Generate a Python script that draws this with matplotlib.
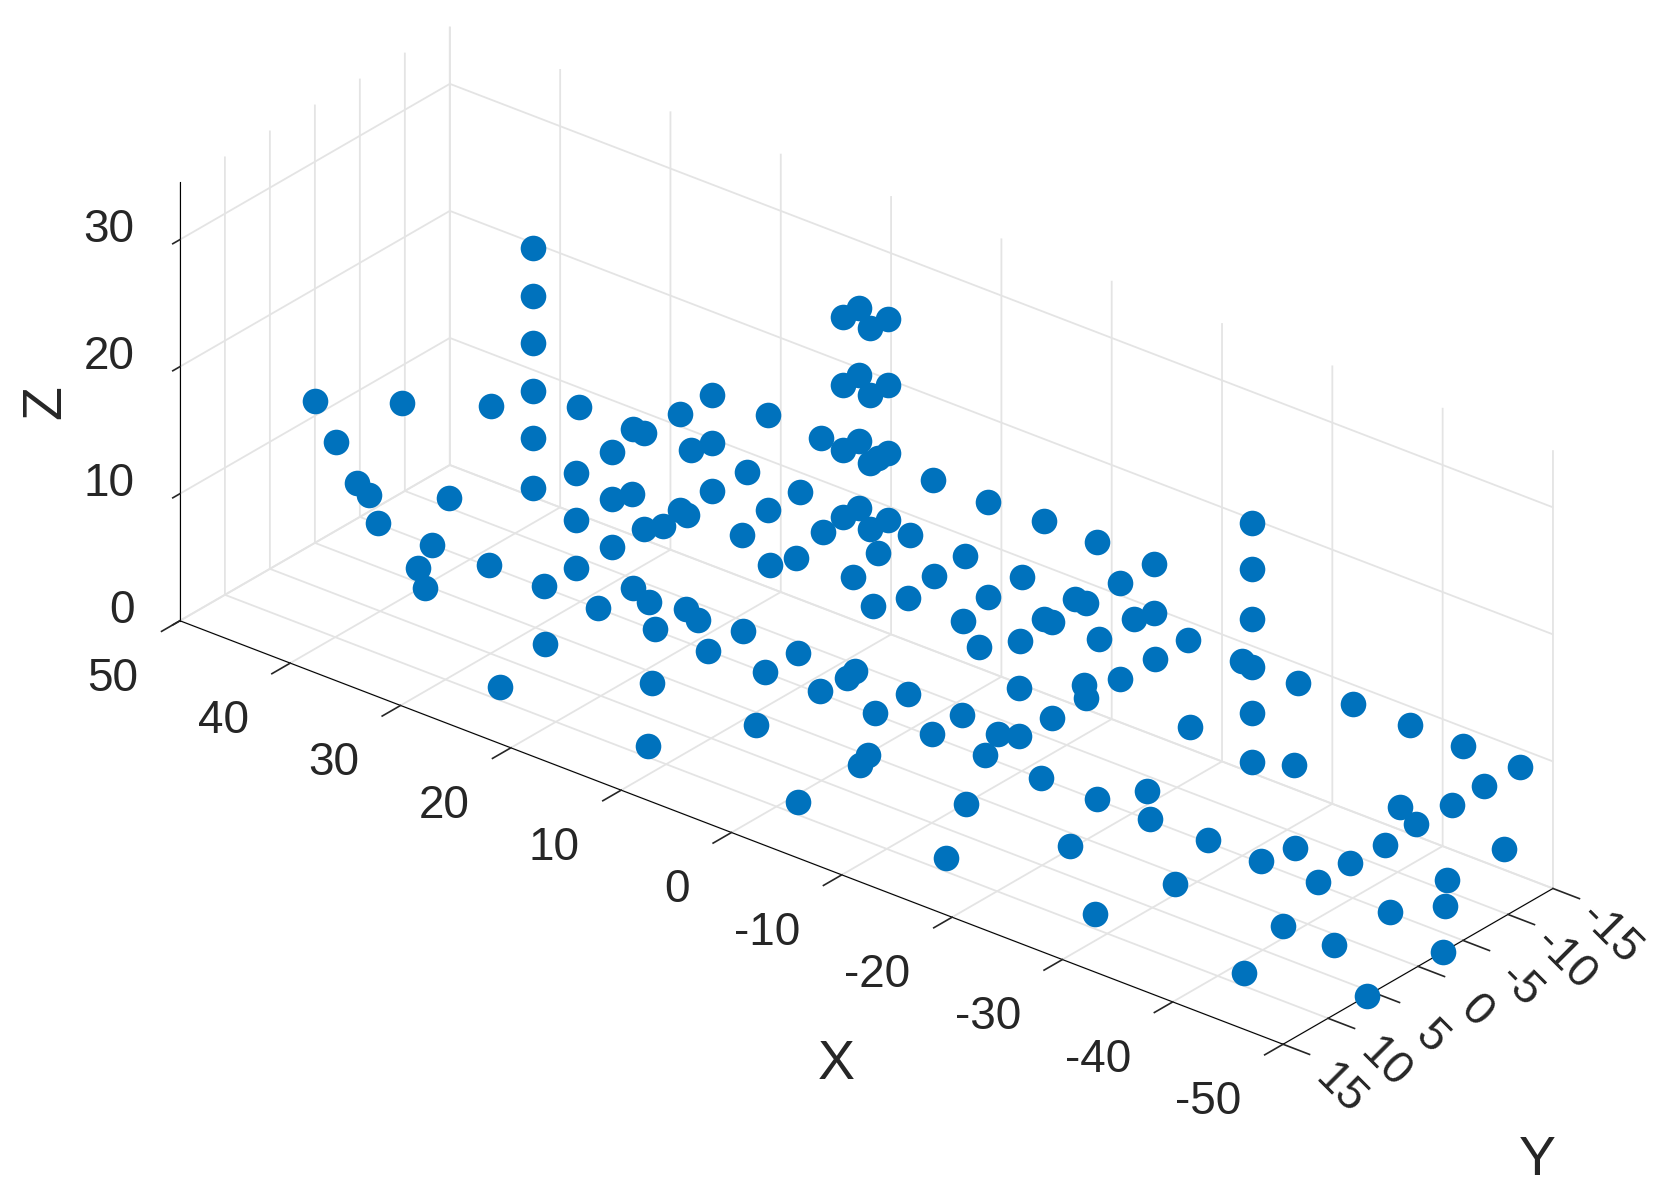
import matplotlib
matplotlib.use('Agg')
import matplotlib.pyplot as plt
from matplotlib.transforms import Affine2D

plt.rcParams['font.family'] = ['Liberation Sans', 'DejaVu Sans']
plt.rcParams['axes.unicode_minus'] = False

# Points. Only two of three coordinates are recoverable from a
# projected view, so depth is an estimate.
floor_x = [48.4, 46.9, 43.4, 42.0, 39.8, -2.0, -6.6, -6.6, -5.2, -1.5, -6.5, -11.7, -1.6, 3.5, 3.5, 8.3, 8.5, 8.5,
           13.3, 13.3, 18.4, 18.4, 21.9, 23.5, 23.3, 26.2, 28.4, 28.4, 33.5, 38.5, 27.9, 26.3, 18.4, 12.7, 8.8, -0.1,
           -0.6, -0.7, -10.1, -14.1, -19.7, -16.7, -18.7, -21.5, -26.6, -29.0, -27.5, -31.5, -32.2, -36.6, -36.6,
           -36.7, -43.4, -45.8, -50.0, -43.4, -43.4, -38.8, -41.2, -50.0]
floor_y = [-5.1, -11.1, -4.9, -1.6, 0.3, -14.5, -12.5, -8.9, -8.2, -8.8, -5.2, -5.1, -5.3, -8.9, -5.2, -8.0, -9.1, -5.3,
           -5.0, -8.7, -8.8, -5.0, -8.1, -8.8, -5.1, -8.0, -8.9, -5.0, -5.2, -5.2, 1.5, 8.5, 1.3, 8.7, 1.5, 0.0,
           1.5, 8.5, 1.3, 8.4, 1.5, -5.1, -8.3, -5.2, -5.3, 1.3, 8.3, -5.2, -8.2, -5.3, -8.9,
           -12.6, -11.3, -8.2, -2.8, -5.0, 1.3, 1.3, 8.5, 5.7]

low_x = [47.4, 45.6, 31.4, 27.4, 26.7, 27.3, 26.4, 21.5, 17.1, 16.4, 11.5, 7.6, 6.5, 1.4, -2.0, -3.6, -12.6, -11.3,
         -12.6, -40.0, -42.5, -42.6, -21.0, -30.3, -49.6]
low_y = [-1.5, -0.6, -12.4, -8.9, -10.1, -12.7, -12.4, -12.5, -10.3, -12.3, -12.6, -10.1, -12.6, -12.4, -10.1, -12.6,
         -12.7, -10.3, -8.9, -10.3, -9.0, -12.8, -10.2, -10.4, -10.1]

mid_x = [46.4, 46.5, 41.4, 36.4, 31.4, 30.4, 26.3, 21.2, 16.4, 16.4, 11.4, 6.4, 6.4, 1.2, 1.4, -3.8, -3.7, -8.8, -9.6,
         -8.6, -9.6, -13.7, -14.3, -13.7, -18.7, -18.7, -48.6, -48.7, -43.6, -38.8, -33.7, -28.7, -23.6]
mid_y = [2.1, -5.4, -9.0, -12.7, -12.6, -12.6, -12.7, -12.7, -9.2, -12.7, -9.1, -9.1, -12.7, -9.0, -12.7, -8.9, -12.7,
         -8.9, -8.9, -12.6, -12.6, -12.9, -14.4, -9.0, -12.8, -9.2, -9.1, -12.9, -12.8, -12.8, -12.8, -12.8, -12.8]

high_x = [45.4, 24.3, 19.4, 14.4, 9.4, 4.3, -0.7, -5.6, -10.5, -15.6, -15.6]
high_y = [5.6, -9.1, -12.8, -12.6, -12.8, -12.7, -12.6, -12.9, -12.8, -9.0, -12.8]

# vertical stacks: (x, y, heights)
stack_x = [37.3, 33.4, 30.4, 24.4, 11.7, 11.7, 9.0, 9.1, -27.7]
stack_y = [-8.7, -8.7, -9.0, -12.7, -11.7, -13.5, -13.4, -11.6, -8.9]
stack_z = [[5.0, 8.9, 12.6, 16.4, 20.1, 23.9],
           [0.0, 3.8, 7.5],
           [2.5, 6.3, 10.0],
           [7.4, 11.2, 15.0],
           [10.0, 15.3, 20.4, 25.8],
           [10.0, 15.3, 20.5, 25.7],
           [10.0, 15.3, 20.6, 25.8],
           [10.0, 15.2, 20.5, 25.8],
           [5.0, 8.9, 12.5, 16.3, 20.2, 23.8]]

x_ticks = [50, 40, 30, 20, 10, 0, -10, -20, -30, -40, -50]
y_ticks = [15, 10, 5, 0, -5, -10, -15]
z_ticks = [0, 10, 20, 30]

xs = floor_x + low_x + mid_x + high_x
ys = floor_y + low_y + mid_y + high_y
zs = [0.0] * len(floor_x) + [5.0] * len(low_x) + [10.0] * len(mid_x) + [15.0] * len(high_x)
for sx, sy, heights in zip(stack_x, stack_y, stack_z):
    for h in heights:
        xs.append(sx)
        ys.append(sy)
        zs.append(h)

W, H = 1668, 1203
fig = plt.figure(figsize=(W / 100, H / 100), dpi=100, facecolor='white')
S = 1668
cx, cy = 843.9, 558.0
ax = fig.add_axes([(cx - S / 2) / W, (H - cy - S / 2) / H, S / W, S / H], projection='3d', proj_type='ortho')
ax.patch.set_alpha(0)
ax.view_init(elev=28.08, azim=129.2)
ax.set_box_aspect((100, 30, 34.9), zoom=0.912)
ax.set_xlim(-50, 50)
ax.set_ylim(-15, 15)
ax.set_zlim(0, 34.5)

ax.scatter(xs, ys, zs, s=340, c='#0072BD', depthshade=False, linewidths=0, alpha=1)

ink = '#262626'
tick_len = {'x': 0.85, 'y': 0.3, 'z': 0.33}
for name, axis in (('x', ax.xaxis), ('y', ax.yaxis), ('z', ax.zaxis)):
    axis.pane.set_facecolor((1, 1, 1, 0))
    axis.pane.set_edgecolor((1, 1, 1, 0))
    axis._axinfo['grid'].update(color='#e4e4e4', linewidth=1.3)
    axis._axinfo['axisline'].update(color=ink, linewidth=1.4)
    axis._axinfo['tick'].update(inward_factor=tick_len[name], outward_factor=0.0,
                                linewidth={True: 1.2, False: 1.2}, color=ink)
    axis.set_rotate_label(False)

ax.set_xticks(x_ticks)
ax.set_yticks(y_ticks)
ax.set_zticks(z_ticks)
ax.zaxis.set_ticks_position('upper')
ax.zaxis.set_label_position('upper')
ax.tick_params(axis='both', labelsize=33, colors=ink)
ax.tick_params(axis='x', pad=14)
ax.tick_params(axis='y', pad=12, labelrotation=-45)
ax.tick_params(axis='z', pad=14)
ax.set_xlabel('X', fontsize=40, color=ink, labelpad=60)
ax.set_ylabel('Y', fontsize=40, color=ink, labelpad=60)
ax.set_zlabel('Z', fontsize=40, color=ink, labelpad=60, rotation=90)


def nudge_ticks(axis, dx, dy, ha, va):
    """Shift an axis's tick labels by pixels; get_major_ticks resets transforms on each draw."""
    original = axis.get_major_ticks

    def wrapped(numticks=None):
        ticks = original(numticks)
        for t in ticks:
            t.label1.set_transform(ax.transData + Affine2D().translate(dx, dy))
            t.label1.set_ha(ha)
            t.label1.set_va(va)
        return ticks
    axis.get_major_ticks = wrapped


def nudge_label(axis, dx, dy):
    """Shift an axis label by pixels; Axis3D.draw resets its transform before drawing it."""
    label = axis.label
    original = label.draw

    def wrapped(renderer):
        label.set_transform(ax.transData + Affine2D().translate(dx, dy))
        original(renderer)
    label.draw = wrapped


nudge_ticks(ax.xaxis, -32, -37, 'right', 'center')
nudge_ticks(ax.yaxis, 22, -18, 'center', 'center')
nudge_ticks(ax.zaxis, 3, 0, 'right', 'center')
nudge_label(ax.xaxis, 140, -156)
nudge_label(ax.yaxis, -24, -83)
nudge_label(ax.zaxis, 44, -35)

fig.savefig('out.png', dpi=100)
